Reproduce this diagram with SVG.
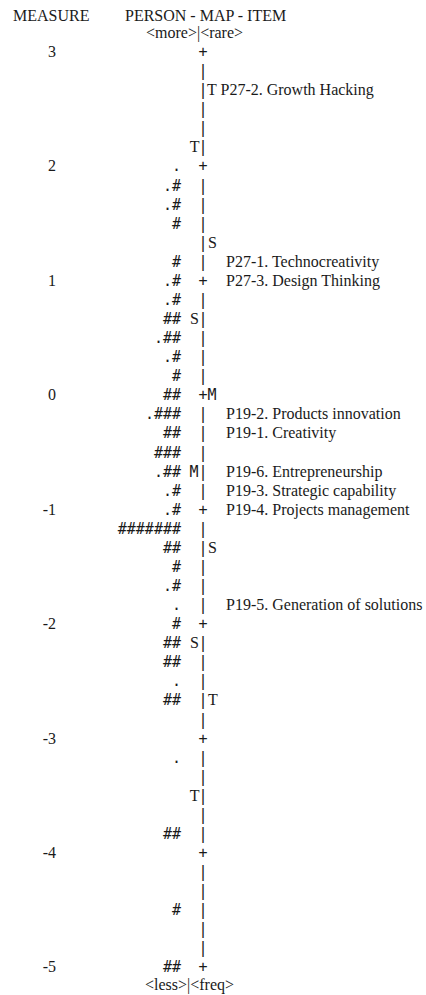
<svg xmlns="http://www.w3.org/2000/svg" width="426" height="995" viewBox="0 0 426 995">
<style>
text{fill:#1a1a1a}
.serif{font-family:"Liberation Serif","Times New Roman",serif;font-size:16px}
.mono{font-family:"DejaVu Sans Mono",monospace;font-size:15px}
.num{text-anchor:end}
.pers{text-anchor:end}
.ax{text-anchor:middle}
.mid{text-anchor:middle}
</style>
<rect width="426" height="995" fill="#ffffff"/>
<g id="header" class="serif">
<text x="13" y="21">MEASURE</text>
<text x="125" y="21">PERSON - MAP - ITEM</text>
<text x="146" y="38">&lt;more&gt;|&lt;rare&gt;</text>
<text x="145" y="990">&lt;less&gt;|&lt;freq&gt;</text>
</g>
<g id="measure" class="serif num">
<text x="56" y="57">3</text>
<text x="56" y="171.4">2</text>
<text x="56" y="285.8">1</text>
<text x="56" y="400.3">0</text>
<text x="56" y="514.7">-1</text>
<text x="56" y="629.1">-2</text>
<text x="56" y="743.5">-3</text>
<text x="56" y="857.9">-4</text>
<text x="56" y="972.4">-5</text>
</g>
<g id="axis" class="mono ax">
<text x="203" y="57">+</text>
<text x="203" y="76.1">|</text>
<text x="203" y="95.1">|</text>
<text x="203" y="114.2">|</text>
<text x="203" y="133.3">|</text>
<text x="203" y="152.4">|</text>
<text x="203" y="171.4">+</text>
<text x="203" y="190.5">|</text>
<text x="203" y="209.6">|</text>
<text x="203" y="228.6">|</text>
<text x="203" y="247.7">|</text>
<text x="203" y="266.8">|</text>
<text x="203" y="285.8">+</text>
<text x="203" y="304.9">|</text>
<text x="203" y="324">|</text>
<text x="203" y="343.1">|</text>
<text x="203" y="362.1">|</text>
<text x="203" y="381.2">|</text>
<text x="203" y="400.3">+</text>
<text x="203" y="419.3">|</text>
<text x="203" y="438.4">|</text>
<text x="203" y="457.5">|</text>
<text x="203" y="476.5">|</text>
<text x="203" y="495.6">|</text>
<text x="203" y="514.7">+</text>
<text x="203" y="533.8">|</text>
<text x="203" y="552.8">|</text>
<text x="203" y="571.9">|</text>
<text x="203" y="591">|</text>
<text x="203" y="610">|</text>
<text x="203" y="629.1">+</text>
<text x="203" y="648.2">|</text>
<text x="203" y="667.2">|</text>
<text x="203" y="686.3">|</text>
<text x="203" y="705.4">|</text>
<text x="203" y="724.5">|</text>
<text x="203" y="743.5">+</text>
<text x="203" y="762.6">|</text>
<text x="203" y="781.7">|</text>
<text x="203" y="800.7">|</text>
<text x="203" y="819.8">|</text>
<text x="203" y="838.9">|</text>
<text x="203" y="857.9">+</text>
<text x="203" y="877">|</text>
<text x="203" y="896.1">|</text>
<text x="203" y="915.2">|</text>
<text x="203" y="934.2">|</text>
<text x="203" y="953.3">|</text>
<text x="203" y="972.4">+</text>
</g>
<g id="markers">
<text class="mono mid" x="212" y="400.3">M</text>
<text class="mono mid" x="194" y="476.5">M</text>
<text class="serif" x="199.5" y="152.4" text-anchor="end">T</text>
<text class="serif" x="207" y="95.1">T</text>
<text class="serif" x="208" y="247.7">S</text>
<text class="serif" x="199" y="324" text-anchor="end">S</text>
<text class="serif" x="208" y="552.8">S</text>
<text class="serif" x="199" y="648.2" text-anchor="end">S</text>
<text class="serif" x="208" y="705.4">T</text>
<text class="serif" x="199.5" y="800.7" text-anchor="end">T</text>
</g>
<g id="persons" class="mono pers">
<text x="181" y="171.4">.</text>
<text x="181" y="190.5">.#</text>
<text x="181" y="209.6">.#</text>
<text x="181" y="228.6">#</text>
<text x="181" y="266.8">#</text>
<text x="181" y="285.8">.#</text>
<text x="181" y="304.9">.#</text>
<text x="181" y="324">##</text>
<text x="181" y="343.1">.##</text>
<text x="181" y="362.1">.#</text>
<text x="181" y="381.2">#</text>
<text x="181" y="400.3">##</text>
<text x="181" y="419.3">.###</text>
<text x="181" y="438.4">##</text>
<text x="181" y="457.5">###</text>
<text x="181" y="476.5">.##</text>
<text x="181" y="495.6">.#</text>
<text x="181" y="514.7">.#</text>
<text x="181" y="533.8">#######</text>
<text x="181" y="552.8">##</text>
<text x="181" y="571.9">#</text>
<text x="181" y="591">.#</text>
<text x="181" y="610">.</text>
<text x="181" y="629.1">#</text>
<text x="181" y="648.2">##</text>
<text x="181" y="667.2">##</text>
<text x="181" y="686.3">.</text>
<text x="181" y="705.4">##</text>
<text x="181" y="762.6">.</text>
<text x="181" y="838.9">##</text>
<text x="181" y="915.2">#</text>
<text x="181" y="972.4">##</text>
</g>
<g id="items" class="serif">
<text x="220.5" y="95.1">P27-2. Growth Hacking</text>
<text x="226" y="266.8">P27-1. Technocreativity</text>
<text x="226" y="285.8">P27-3. Design Thinking</text>
<text x="226" y="419.3">P19-2. Products innovation</text>
<text x="226" y="438.4">P19-1. Creativity</text>
<text x="226" y="476.5">P19-6. Entrepreneurship</text>
<text x="226" y="495.6">P19-3. Strategic capability</text>
<text x="226" y="514.7">P19-4. Projects management</text>
<text x="226" y="610">P19-5. Generation of solutions</text>
</g>
</svg>
